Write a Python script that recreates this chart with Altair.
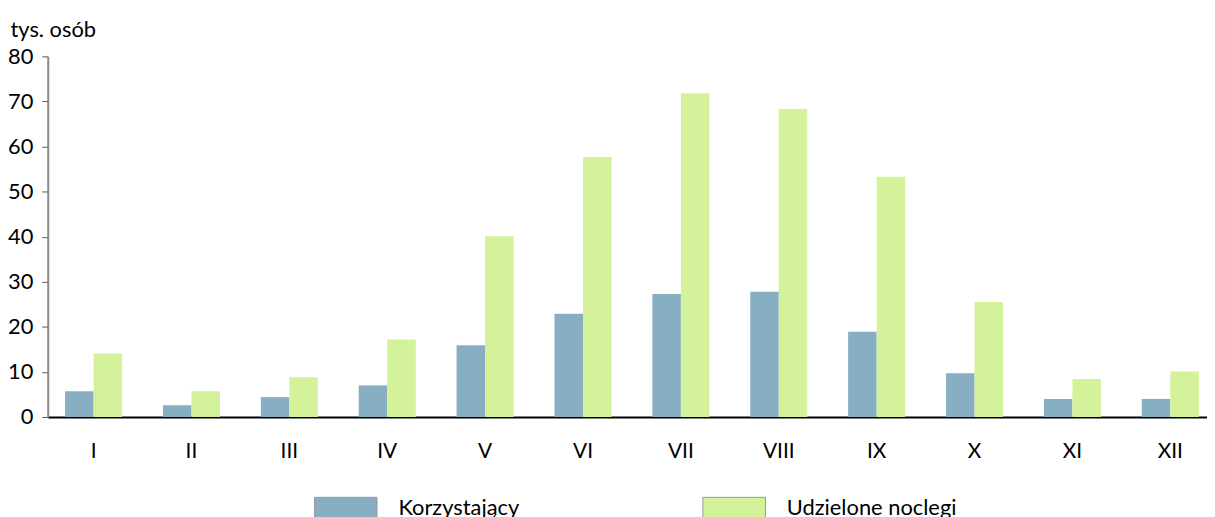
import altair as alt
import pandas as pd

months = ["I", "II", "III", "IV", "V", "VI", "VII", "VIII", "IX", "X", "XI", "XII"]
korzystajacy = [5.7, 2.6, 4.4, 7.0, 15.9, 22.9, 27.3, 27.8, 18.9, 9.7, 4.0, 4.0]
noclegi = [14.1, 5.7, 8.8, 17.2, 40.1, 57.7, 71.8, 68.3, 53.3, 25.5, 8.4, 10.1]
series = ["Korzystający", "Udzielone noclegi"]
colors = ["#87AEC2", "#D3F299"]

rows = []
for m, a, b in zip(months, korzystajacy, noclegi):
    rows.append({"month": m, "series": series[0], "value": a})
    rows.append({"month": m, "series": series[1], "value": b})
df = pd.DataFrame(rows)

FONT = "Lato"

chart = alt.Chart(df).mark_bar().encode(
    x=alt.X("month:N", sort=months,
            scale=alt.Scale(paddingInner=0.417, paddingOuter=0.13, align=0.68, round=False),
            axis=alt.Axis(title=None, labelAngle=0, ticks=False, domainColor="#000000",
                          domainWidth=2, labelPadding=24, labelFontSize=21,
                          labelFont=FONT, labelColor="#000000")),
    xOffset=alt.XOffset("series:N", sort=series,
                        scale=alt.Scale(paddingInner=0, paddingOuter=0, round=False)),
    y=alt.Y("value:Q", scale=alt.Scale(domain=[0, 80], nice=False),
            axis=alt.Axis(title="tys. osób", titleAngle=0, titleX=-38, titleY=-27,
                          titleAlign="left", titleBaseline="middle", titleFontSize=22,
                          titleFontWeight="normal", titleFont=FONT, titleColor="#000000",
                          values=[0, 10, 20, 30, 40, 50, 60, 70, 80], grid=False,
                          domainColor="#888888", domainWidth=2, tickColor="#555555",
                          tickSize=6, labelPadding=9, labelFontSize=22, labelFont=FONT,
                          labelColor="#000000")),
    color=alt.Color("series:N", sort=series,
                    scale=alt.Scale(domain=series, range=colors),
                    legend=alt.Legend(title=None, orient="none", direction="horizontal",
                                      legendX=268, legendY=422,
                                      symbolType="M-1,-0.33L1,-0.33L1,0.33L-1,0.33Z",
                                      symbolSize=3969, symbolStrokeColor="#999999",
                                      symbolStrokeWidth=1, symbolOpacity=1,
                                      labelOffset=21, columnPadding=182, labelLimit=400,
                                      labelFontSize=22, labelFont=FONT,
                                      labelColor="#000000")),
).properties(
    width=1167, height=363,
    autosize=alt.AutoSizeParams(type="none"),
    padding={"left": 40, "top": 47, "right": 0, "bottom": 99},
).configure_view(stroke=None)

chart.save("out.html", embed_options={"renderer": "svg", "actions": False})
